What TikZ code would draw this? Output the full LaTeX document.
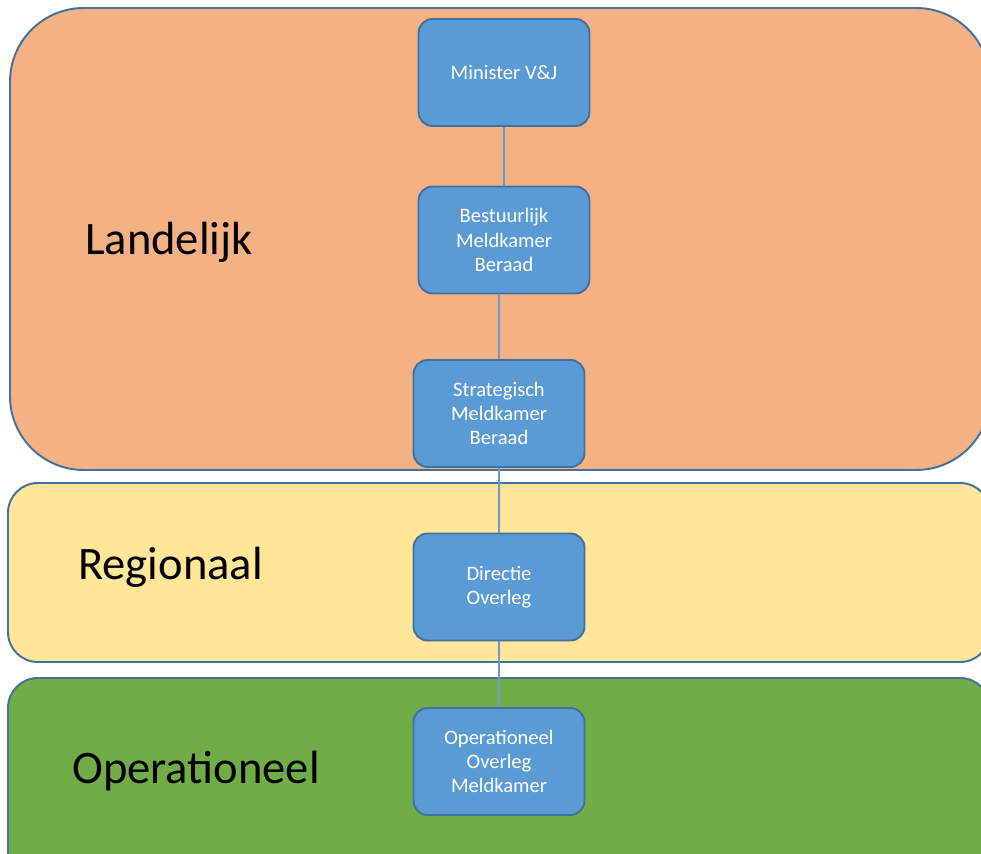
\documentclass[tikz,border=0pt]{standalone}
\usepackage{fontspec}
\setmainfont{Carlito}
\usetikzlibrary{positioning}

\definecolor{bandline}{HTML}{41719C}
\definecolor{landorange}{HTML}{F4B183}
\definecolor{regyellow}{HTML}{FFE699}
\definecolor{opgreen}{HTML}{70AD47}
\definecolor{boxblue}{HTML}{5B9BD5}
\definecolor{linkblue}{HTML}{6E9BCF}

\begin{document}
\begin{tikzpicture}[x=0.02cm,y=-0.02cm,
  band/.style={draw=bandline,line width=1.1pt},
  lvl/.style={anchor=west,font=\fontsize{26.5}{31}\selectfont},
  box/.style={rectangle,rounded corners=8pt,draw=bandline,line width=1.1pt,fill=boxblue,
    text=white,minimum width=3.42cm,minimum height=2.14cm,align=center,
    font=\fontsize{11.7}{13.7}\selectfont},
  link/.style={draw=linkblue,line width=1pt}]

\clip (0,0) rectangle (981,854);
\fill[white] (0,0) rectangle (981,854);

\path[band,fill=landorange,rounded corners=42pt] (10,8) rectangle (990,470);
\path[band,fill=regyellow,rounded corners=17pt] (8,483) rectangle (990,662);
\path[band,fill=opgreen,rounded corners=17pt] (8,678) rectangle (990,900);

\node[lvl] (landelijk) at (79,242) {Landelijk};
\node[lvl] (regionaal) at (72,567) {Regionaal};
\node[lvl] (operationeel) at (66,771) {Operationeel};

\node[box] (min) at (504,72.5) {Minister V\&J};
\node[box] (bmb) at (504,240) {Bestuurlijk\\Meldkamer\\Beraad};
\node[box] (smb) at (499,413.5) {Strategisch\\Meldkamer\\Beraad};
\node[box] (dir) at (499,587) {Directie\\Overleg};
\node[box] (oom) at (499,761.5) {Operationeel\\Overleg\\Meldkamer};

\draw[link] (min) -- (bmb);
\draw[link] (bmb.south -| smb.north) -- (smb);
\draw[link] (smb) -- (dir);
\draw[link] (dir) -- (oom);

\end{tikzpicture}
\end{document}
